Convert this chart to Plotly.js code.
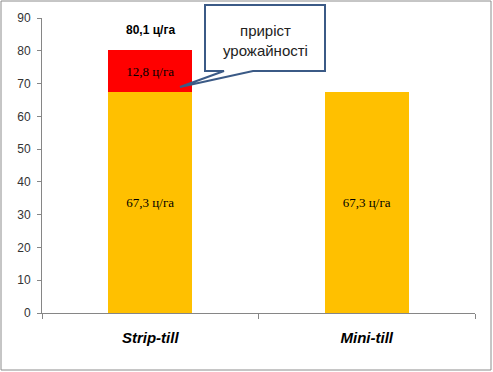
<!DOCTYPE html>
<html>
<head>
<meta charset="utf-8">
<script src="https://cdn.plot.ly/plotly-3.0.1.min.js"></script>
<style>html,body{margin:0;padding:0;background:#fff;}#chart{width:493px;height:372px;}</style>
</head>
<body>
<div id="chart"></div>
<script>
const categories = ['Strip-till', 'Mini-till'];
const baseYield = [67.3, 67.3];
const yieldGain = [12.8, null];
const totalYield = [80.1, null];
const baseLabels = ['67,3 ц/га', '67,3 ц/га'];
const gainLabels = ['12,8 ц/га', ''];
const totalLabels = ['80,1 ц/га', ''];
const yTicks = [0, 10, 20, 30, 40, 50, 60, 70, 80, 90];

const W = 493, H = 372, L = 42, R = 18, T = 18, B = 59;
const pw = W - L - R, ph = H - T - B;
const px = x => (x - L) / pw;
const py = y => (H - B - y) / ph;

const traces = [
  {type: 'bar', x: categories, y: baseYield, text: baseLabels, textposition: 'inside',
   insidetextanchor: 'middle', marker: {color: '#FFC000'}, width: 0.39,
   textfont: {family: 'Liberation Serif', size: 13, color: '#000'}, hoverinfo: 'none'},
  {type: 'bar', x: categories, y: yieldGain, text: gainLabels, textposition: 'inside',
   insidetextanchor: 'middle', marker: {color: '#FF0000'}, width: 0.39,
   textfont: {family: 'Liberation Serif', size: 13, color: '#000'}, hoverinfo: 'none'}
];

const calloutPath = `M ${px(205)} ${py(5)} L ${px(325)} ${py(5)} L ${px(325)} ${py(71)} L ${px(253)} ${py(71)} L ${px(180)} ${py(87)} L ${px(224)} ${py(71)} L ${px(205)} ${py(71)} Z`;

const layout = {
  width: W, height: H,
  margin: {l: L, r: R, t: T, b: B, pad: 0},
  paper_bgcolor: '#fff', plot_bgcolor: '#fff',
  barmode: 'stack', showlegend: false,
  font: {family: 'Liberation Sans', size: 11, color: '#333'},
  xaxis: {type: 'category', showgrid: false, zeroline: false, showline: true,
          linecolor: '#868686', linewidth: 1, ticks: 'outside', tickson: 'boundaries',
          ticklen: 5, tickcolor: '#868686', ticklabelstandoff: 11,
          tickfont: {family: 'Liberation Sans Narrow, Liberation Sans', size: 15, color: '#000', weight: 'bold', style: 'italic'}},
  yaxis: {range: [0, 90], tickvals: yTicks, showgrid: false, zeroline: false, showline: true,
          linecolor: '#868686', linewidth: 1, ticks: 'outside', ticklen: 4, tickcolor: '#868686',
          ticklabelstandoff: 4,
          tickfont: {family: 'Liberation Sans', size: 12, color: '#333'}},
  shapes: [
    {type: 'rect', xref: 'paper', yref: 'paper', x0: px(1), x1: px(491), y0: py(1), y1: py(370),
     line: {color: '#8c8c8c', width: 1}, fillcolor: 'rgba(0,0,0,0)', layer: 'below'},
    {type: 'path', xref: 'paper', yref: 'paper', path: calloutPath,
     line: {color: '#3B5A86', width: 2}, fillcolor: '#fff', layer: 'above'}
  ],
  annotations: [
    {x: categories[0], y: totalYield[0], xref: 'x', yref: 'y', text: totalLabels[0],
     showarrow: false, yanchor: 'bottom', yshift: 11,
     font: {family: 'Liberation Sans', size: 12, color: '#000', weight: 'bold'}},
    {x: px(265), y: py(40), xref: 'paper', yref: 'paper', text: 'приріст<br>урожайності',
     showarrow: false, xanchor: 'center', yanchor: 'middle',
     font: {family: 'Liberation Sans Narrow, Liberation Sans', size: 15, color: '#222'}}
  ]
};

Plotly.newPlot('chart', traces, layout, {staticPlot: true, displayModeBar: false});
</script>
</body>
</html>
